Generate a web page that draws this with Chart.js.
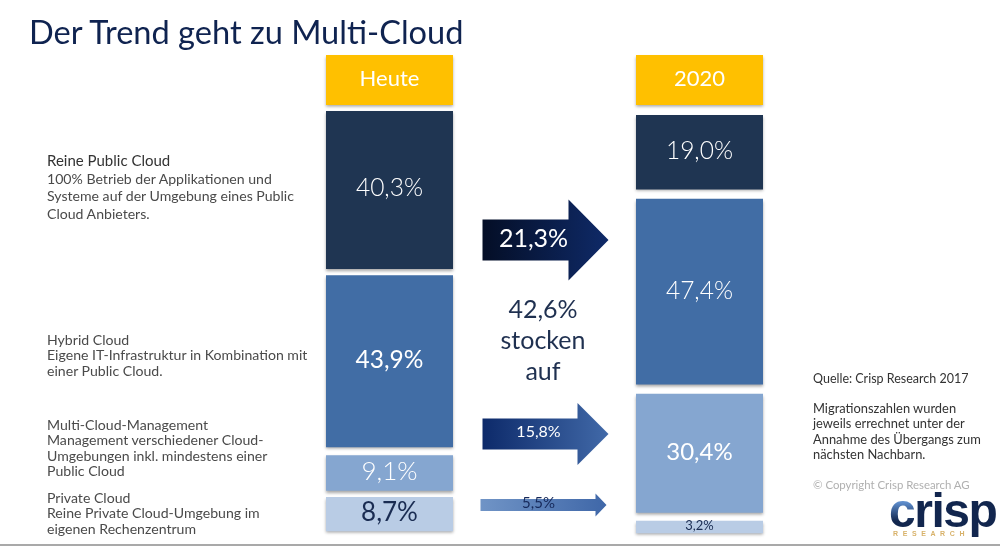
<!DOCTYPE html>
<html lang="de">
<head>
<meta charset="UTF-8">
<title>Der Trend geht zu Multi-Cloud</title>
<script src="https://cdn.jsdelivr.net/npm/chart.js"></script>
<style>
    html, body { margin: 0; padding: 0; background: #fff; overflow: hidden; }
    #wrap { position: relative; width: 1000px; height: 546px; font-family: 'Lato', sans-serif; }
    #chart { position: absolute; left: 0; top: 0; }
    .note { position: absolute; white-space: nowrap; font-size: 14.1px; color: #4a4a4a; }
    .note div { height: 15.3px; line-height: 15.3px; }
    h1 { position: absolute; left: 29px; top: 11px; margin: 0; font-size: 32.6px; line-height: 42px; font-weight: 400; color: #0f2350; white-space: nowrap; }
    #mid { position: absolute; left: 468px; width: 150px; top: 293px; text-align: center; font-size: 25px; line-height: 31px; color: #1f3050; }
    .side { position: absolute; left: 813px; white-space: nowrap; font-size: 12.9px; color: #333; line-height: 15.3px; }
    #rule { position: absolute; left: 0; right: 0; top: 544px; height: 2px; background: #a9a9a9; }
    #logo { position: absolute; left: 889px; top: 481px; font: bold 48px 'Liberation Sans', sans-serif; letter-spacing: -1.5px; color: #12264e; line-height: 60px; }
    #logo span { background: linear-gradient(180deg, #5d8ccb 35%, #12264e 70%); -webkit-background-clip: text; background-clip: text; color: transparent; }
    #logo2 { position: absolute; left: 893px; top: 530px; font: bold 7px 'Liberation Sans', sans-serif; letter-spacing: 4.6px; color: #d8b26a; }
</style>
</head>
<body>
<div id="wrap">
    <canvas id="chart" width="1000" height="546"></canvas>
    <h1>Der Trend geht zu Multi-Cloud</h1>

    <div class="note" style="left:47px;top:153px">
        <div style="color:#333;font-size:15px;height:17.5px;line-height:15px">Reine Public Cloud</div>
        <div style="height:17.5px">100% Betrieb der Applikationen und</div>
        <div style="height:17.5px">Systeme auf der Umgebung eines Public</div>
        <div style="height:17.5px">Cloud Anbieters.</div>
    </div>
    <div class="note" style="left:47px;top:332px">
        <div>Hybrid Cloud</div>
        <div>Eigene IT-Infrastruktur in Kombination mit</div>
        <div>einer Public Cloud.</div>
    </div>
    <div class="note" style="left:47px;top:417px">
        <div>Multi-Cloud-Management</div>
        <div>Management verschiedener Cloud-</div>
        <div>Umgebungen inkl. mindestens einer</div>
        <div>Public Cloud</div>
    </div>
    <div class="note" style="left:47px;top:490px">
        <div>Private Cloud</div>
        <div>Reine Private Cloud-Umgebung im</div>
        <div>eigenen Rechenzentrum</div>
    </div>

    <div id="mid">42,6%<br>stocken<br>auf</div>

    <div class="side" style="top:371px;font-size:12.5px">Quelle: Crisp Research 2017</div>
    <div class="side" style="top:401px">Migrationszahlen wurden<br>jeweils errechnet unter der<br>Annahme des Übergangs zum<br>nächsten Nachbarn.</div>
    <div class="side" style="top:477px;color:#b0b0b0;font-size:11.4px">© Copyright Crisp Research AG</div>

    <div id="logo"><span>c</span>risp</div>
    <div id="logo2">RESEARCH</div>
    <div id="rule"></div>
</div>

<script>
    const columns = ['Heute', '2020'];
    const categories = ['Reine Public Cloud', 'Hybrid Cloud', 'Multi-Cloud-Management', 'Private Cloud'];
    const heuteValues = [40.3, 43.9, 9.1, 8.7];
    const futureValues = [19.0, 47.4, 30.4, 3.2];
    const migrationValues = [21.3, 15.8, 5.5];

    const barColors = ['#1f3552', '#416da5', '#85a6d0', '#b9cce5'];
    const labelColors = ['#fff', '#fff', '#fff', '#1a2c52'];

    // Luecken zwischen den Bloecken, in Achseneinheiten
    const columnStart = [0, 1];
    const gapsHeute = [1.6, 2.0, 1.6];
    const gapsFuture = [2.4, 2.3, 2.0];
    const headerSpan = [-14.3, -1.5];

    function fmt(v) {
        return v.toFixed(1).replace('.', ',') + '%';
    }

    // Bloecke als schwebende Balken aus den Werten aufbauen
    function spans(values, gaps, start) {
        let pos = start;
        return values.map((v, i) => {
            const span = [pos, pos + v];
            pos += v + (gaps[i] || 0);
            return span;
        });
    }
    const heuteSpans = spans(heuteValues, gapsHeute, columnStart[0]);
    const futureSpans = spans(futureValues, gapsFuture, columnStart[1]);

    const datasets = categories.map((name, i) => ({
        label: name,
        data: [heuteSpans[i], futureSpans[i]],
        backgroundColor: barColors[i]
    }));
    datasets.push({ label: 'Kopf', data: [headerSpan, headerSpan], backgroundColor: '#ffc000' });

    // Pfeile: Mitte auf der y-Achse, Form in Pixeln
    const arrowY = [32.9, 82.4, 100.5];
    const arrowShape = [
        { left: -62, headX: 24, tip: 64, shaft: 20.5, head: 40.5, from: '#040e26', to: '#0f2a68', font: 25 },
        { left: -62, headX: 33, tip: 64, shaft: 15.5, head: 31, from: '#0d2a6a', to: '#4169a8', font: 16 },
        { left: -64, headX: 51, tip: 62, shaft: 6, head: 11.5, from: '#7094c6', to: '#3f67a8', font: 15 }
    ];

    const shadowPlugin = {
        id: 'shadow',
        beforeDatasetsDraw(chart) {
            const ctx = chart.ctx;
            ctx.save();
            ctx.shadowColor = 'rgba(0,0,0,0.35)';
            ctx.shadowBlur = 3;
            ctx.shadowOffsetY = 2;
        },
        afterDatasetsDraw(chart) {
            chart.ctx.restore();
        }
    };

    const labelPlugin = {
        id: 'labels',
        afterDraw(chart) {
            const ctx = chart.ctx;
            const x = chart.scales.x;
            const y = chart.scales.y;
            ctx.save();
            ctx.textAlign = 'center';
            ctx.textBaseline = 'middle';

            const heuteFonts = ['300 24.5px Lato', '400 24.5px Lato', '300 26px Lato', '400 26px Lato'];
            const futureFonts = ['300 24.5px Lato', '300 24.5px Lato', '400 24px Lato', '400 13px Lato'];
            categories.forEach((name, i) => {
                const bars = chart.getDatasetMeta(i).data;
                ctx.fillStyle = labelColors[i];
                ctx.font = heuteFonts[i];
                ctx.fillText(fmt(heuteValues[i]), bars[0].x, bars[0].y + (bars[0].base - bars[0].y) / 2 - 1.5);
                ctx.font = futureFonts[i];
                ctx.fillText(fmt(futureValues[i]), bars[1].x, bars[1].y + (bars[1].base - bars[1].y) / 2 - 1);
            });

            ctx.fillStyle = '#fff';
            ctx.font = '22px Lato';
            const head = chart.getDatasetMeta(4).data;
            columns.forEach((c, i) => {
                ctx.fillText(c, head[i].x, head[i].y + (head[i].base - head[i].y) / 2 - 1);
            });

            // Migrationspfeile
            const mid = (x.getPixelForValue(0) + x.getPixelForValue(1)) / 2;
            migrationValues.forEach((v, i) => {
                const s = arrowShape[i];
                const cy = y.getPixelForValue(arrowY[i]);
                const grad = ctx.createLinearGradient(mid + s.left, 0, mid + s.tip, 0);
                grad.addColorStop(0, s.from);
                grad.addColorStop(1, s.to);
                ctx.fillStyle = grad;
                ctx.beginPath();
                ctx.moveTo(mid + s.left, cy - s.shaft);
                ctx.lineTo(mid + s.headX, cy - s.shaft);
                ctx.lineTo(mid + s.headX, cy - s.head);
                ctx.lineTo(mid + s.tip, cy);
                ctx.lineTo(mid + s.headX, cy + s.head);
                ctx.lineTo(mid + s.headX, cy + s.shaft);
                ctx.lineTo(mid + s.left, cy + s.shaft);
                ctx.closePath();
                ctx.fill();

                ctx.fillStyle = i === 2 ? '#16295a' : '#fff';
                ctx.font = s.font + 'px Lato';
                ctx.fillText(fmt(v), mid + (i === 0 ? -11 : -6), cy - (i === 0 ? 1 : 2));
            });
            ctx.restore();
        }
    };

    new Chart(document.getElementById('chart'), {
        type: 'bar',
        data: { labels: columns, datasets: datasets },
        plugins: [shadowPlugin, labelPlugin],
        options: {
            responsive: false,
            animation: false,
            devicePixelRatio: 1,
            layout: { padding: { left: 234.5, right: 145.5, top: 0, bottom: 0 } },
            datasets: { bar: { categoryPercentage: 1, barPercentage: 127 / 310, borderSkipped: false } },
            scales: {
                x: { display: false, stacked: true },
                y: { display: false, reverse: true, min: -111 / 3.92, max: 435 / 3.92 }
            },
            plugins: { legend: { display: false }, tooltip: { enabled: false } }
        }
    });
</script>
</body>
</html>
